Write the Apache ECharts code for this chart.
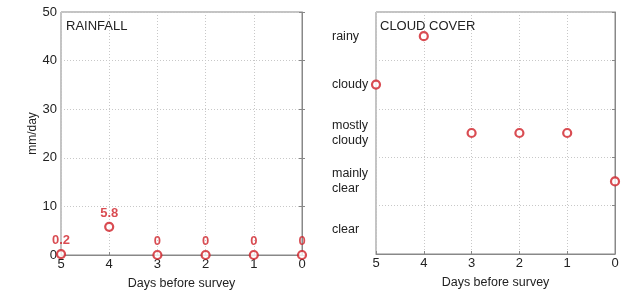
<!DOCTYPE html>
<html>
<head>
<meta charset="utf-8">
<script src="https://cdn.jsdelivr.net/npm/echarts@6/dist/echarts.min.js"></script>
<style>
  html, body { margin: 0; padding: 0; background: #fff; }
  #chart { width: 634px; height: 295px; }
</style>
</head>
<body>
<div id="chart"></div>
<script>
// days before survey (x), shared by both panels
const days = [5, 4, 3, 2, 1, 0];
const rainfall = [0.2, 5.8, 0, 0, 0, 0];
const rainTicks = [0, 10, 20, 30, 40, 50];
const coverLevels = ['clear', 'mainly\nclear', 'mostly\ncloudy', 'cloudy', 'rainy'];
const cloudCover = ['cloudy', 'rainy', 'mostly\ncloudy', 'mostly\ncloudy', 'mostly\ncloudy', 'mainly\nclear'];

const red = '#d01f27';
const font = 'Liberation Sans, Arial, sans-serif';
const gridLine = { show: true, lineStyle: { color: '#c8c8c8', type: [1, 2], width: 1 } };
const axisLine = { show: true, lineStyle: { color: '#888', width: 1 } };
const tick = { show: true, inside: true, length: 3, lineStyle: { color: '#888' } };

const chart = echarts.init(document.getElementById('chart'));

function xAxis(gridIndex) {
  return {
    gridIndex,
    type: 'value',
    inverse: true,
    min: 0, max: 5, interval: 1,
    axisLine, splitLine: gridLine,
    axisTick: tick,
    axisLabel: { color: '#222', fontSize: 13, fontFamily: font, margin: 3 },
    name: 'Days before survey',
    nameLocation: 'middle',
    nameGap: 22,
    nameTextStyle: { color: '#222', fontSize: 12.5, fontFamily: font }
  };
}

const option = {
  animation: false,
  grid: [
    { left: 61, right: 332, top: 12, bottom: 40, show: true, borderColor: '#888', borderWidth: 1 },
    { left: 376, right: 19, top: 12, bottom: 41, show: true, borderColor: '#888', borderWidth: 1 }
  ],
  title: [
    { text: 'RAINFALL', left: 66, top: 20, padding: 0, textStyle: { fontSize: 13, fontWeight: 'normal', color: '#222', fontFamily: font } },
    { text: 'CLOUD COVER', left: 380, top: 20, padding: 0, textStyle: { fontSize: 13, fontWeight: 'normal', color: '#222', fontFamily: font } }
  ],
  xAxis: [xAxis(0), xAxis(1)],
  yAxis: [
    {
      gridIndex: 0,
      type: 'value',
      min: rainTicks[0], max: rainTicks[rainTicks.length - 1], interval: 10,
      axisLine, splitLine: gridLine,
      axisTick: tick,
      axisLabel: { color: '#222', fontSize: 13, fontFamily: font, margin: 4 },
      name: 'mm/day',
      nameLocation: 'middle',
      nameGap: 19,
      nameTextStyle: { color: '#222', fontSize: 12, fontFamily: font }
    },
    {
      gridIndex: 1,
      type: 'category',
      data: coverLevels,
      boundaryGap: true,
      axisLine, splitLine: gridLine,
      axisTick: { show: false },
      axisLabel: { color: '#222', fontSize: 12.5, fontFamily: font, align: 'left', margin: 44, lineHeight: 15 }
    },
    {
      gridIndex: 0,
      type: 'value',
      position: 'right',
      min: rainTicks[0], max: rainTicks[rainTicks.length - 1], interval: 10,
      axisLine: { show: false }, splitLine: { show: false },
      axisTick: tick, axisLabel: { show: false }
    },
    {
      gridIndex: 1,
      type: 'category',
      position: 'right',
      data: coverLevels,
      boundaryGap: true,
      axisLine: { show: false }, splitLine: { show: false },
      axisTick: tick, axisLabel: { show: false }
    }
  ],
  series: [
    {
      type: 'scatter',
      xAxisIndex: 0, yAxisIndex: 0,
      data: days.map((d, i) => [d, rainfall[i]]),
      symbol: 'circle', symbolSize: 8,
      itemStyle: { color: '#fff', borderColor: red, borderWidth: 2.2 },
      clip: false,
      label: {
        show: true, position: 'top', distance: 2,
        color: red, fontWeight: 'bold', fontSize: 13, fontFamily: font,
        formatter: p => String(p.value[1])
      }
    },
    {
      type: 'scatter',
      xAxisIndex: 1, yAxisIndex: 1,
      data: days.map((d, i) => [d, cloudCover[i]]),
      symbol: 'circle', symbolSize: 8,
      itemStyle: { color: '#fff', borderColor: red, borderWidth: 2.2 },
      clip: false
    }
  ]
};
chart.setOption(option);
</script>
</body>
</html>
